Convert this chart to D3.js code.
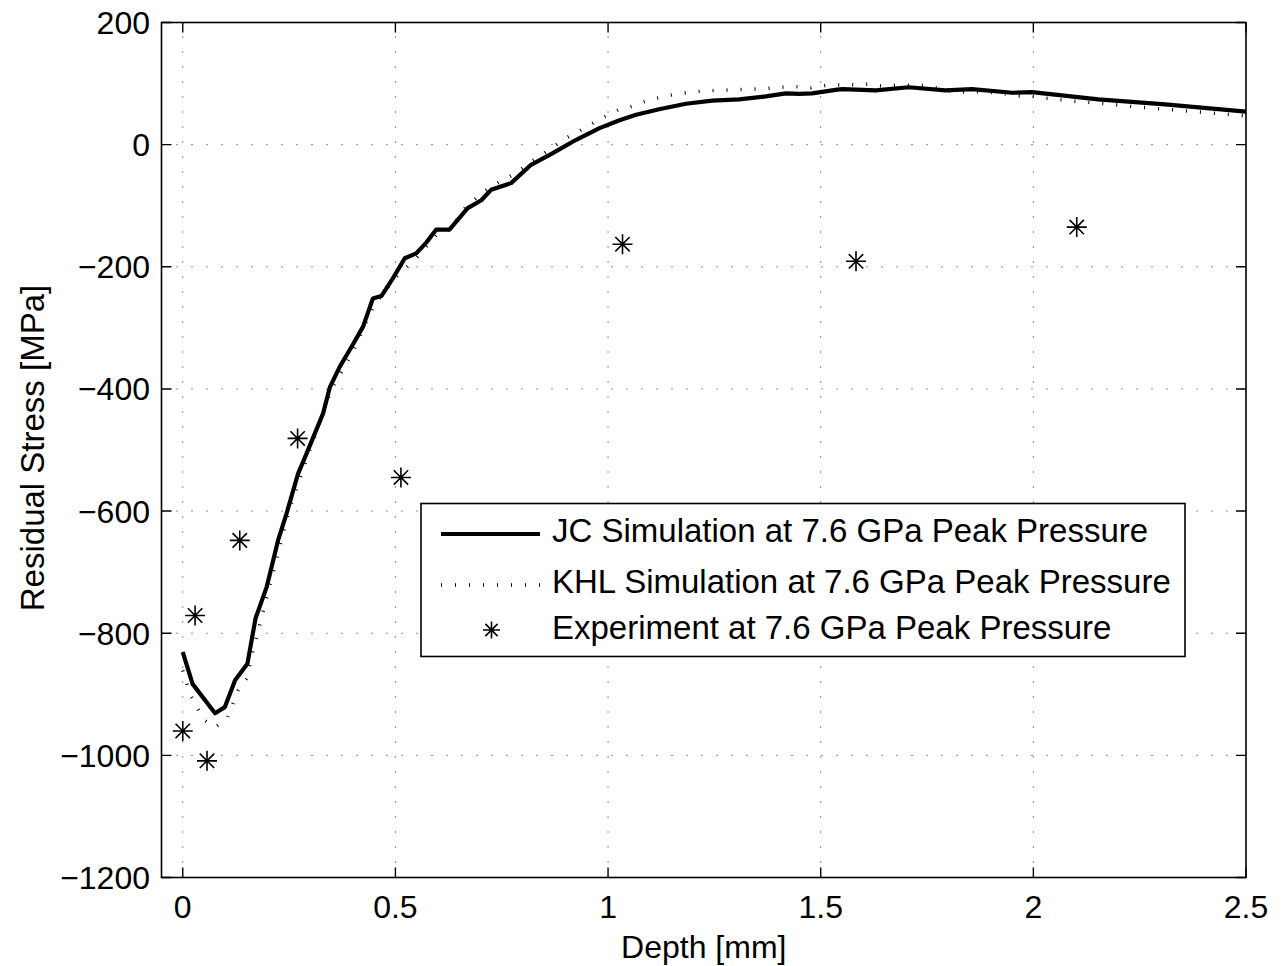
<!DOCTYPE html>
<html>
<head>
<meta charset="utf-8">
<script src="https://cdn.jsdelivr.net/npm/d3@7"></script>
<style>
  html, body { margin: 0; padding: 0; background: #fff; }
  svg { display: block; }
  text { font-family: "Liberation Sans", Arial, Helvetica, sans-serif; fill: #000; }
</style>
</head>
<body>
<svg id="chart" width="1283" height="966"></svg>
<script>
// ---- data ----
const xTicks = [0, 0.5, 1, 1.5, 2, 2.5];
const yTicks = [200, 0, -200, -400, -600, -800, -1000, -1200];
const yTickLabels = ["200", "0", "\u2212200", "\u2212400", "\u2212600", "\u2212800", "\u22121000", "\u22121200"];
const xTickLabels = ["0", "0.5", "1", "1.5", "2", "2.5"];

const jcDepth = [0, 0.023, 0.076, 0.099, 0.123, 0.152, 0.171, 0.197, 0.224, 0.244, 0.271, 0.291, 0.33, 0.346, 0.369, 0.397, 0.424, 0.447, 0.467, 0.494, 0.522, 0.549, 0.573, 0.596, 0.627, 0.67, 0.702, 0.725, 0.772, 0.819, 0.87, 0.925, 0.98, 1.027, 1.066, 1.12, 1.183, 1.245, 1.308, 1.371, 1.418, 1.449, 1.48, 1.539, 1.551, 1.629, 1.707, 1.793, 1.856, 1.95, 1.997, 2.153, 2.31, 2.5];
const jcStress = [-831, -883, -931, -921, -877, -850, -776, -725, -648, -604, -539, -506, -440, -397, -364, -331, -298, -252, -248, -219, -186, -178, -160, -139, -139, -104, -91, -74, -63, -33, -14, 8, 27, 40, 49, 58, 67, 72, 74, 79, 84, 83, 84, 90, 91, 89, 94, 89, 91, 85, 86, 74, 66, 54];

const khlDepth = [0, 0.017, 0.048, 0.076, 0.104, 0.13, 0.151, 0.165, 0.2, 0.25, 0.3, 0.35, 0.4, 0.45, 0.5, 0.55, 0.6, 0.63, 0.666, 0.696, 0.723, 0.754, 0.785, 0.813, 0.843, 0.872, 0.899, 0.929, 0.961, 0.993, 1.024, 1.058, 1.092, 1.126, 1.161, 1.195, 1.23, 1.265, 1.3, 1.336, 1.371, 1.406, 1.441, 1.477, 1.512, 1.547, 1.581, 1.616, 1.651, 1.684, 1.719, 1.754, 1.789, 1.823, 1.856, 1.891, 1.926, 1.96, 1.997, 2.03, 2.099, 2.169, 2.239, 2.31, 2.38, 2.45, 2.5];
const khlStress = [-861, -899, -941, -954, -940, -894, -874, -829, -735, -598, -498, -400, -340, -262, -218, -185, -145, -138, -102, -84, -69, -58, -46, -31, -17, -3, 10, 21, 34, 46, 57, 63, 72, 78, 83, 86, 88, 89, 90, 91, 92, 94, 95, 93, 97, 98, 98, 99, 95, 98, 97, 97, 89, 86, 87, 86, 84, 80, 79, 76, 71, 67, 62, 58, 54, 50, 47];

const expDepth = [0, 0.029, 0.057, 0.134, 0.27, 0.513, 1.034, 1.583, 2.102];
const expStress = [-960, -771, -1009, -648, -481, -545, -163, -191, -135];

const seriesNames = ["JC Simulation at 7.6 GPa Peak Pressure", "KHL Simulation at 7.6 GPa Peak Pressure", "Experiment at 7.6 GPa Peak Pressure"];
const xLabel = "Depth [mm]";
const yLabel = "Residual Stress [MPa]";

// ---- layout ----
const L = 161.5, R = 1246, T = 22.5, B = 877.5;
const FS = 32;
const svg = d3.select("#chart");
const x = d3.scaleLinear().domain([-0.05, 2.5]).range([L, R]);
const y = d3.scaleLinear().domain([-1200, 200]).range([B, T]);

// grid
const grid = svg.append("g").attr("stroke", "#222").attr("stroke-width", 1).attr("stroke-dasharray", "1,14");
grid.selectAll(".vg").data(xTicks.filter(d => d < 2.5)).join("line")
  .attr("x1", d => x(d)).attr("x2", d => x(d)).attr("y1", B).attr("y2", T);
grid.selectAll(".hg").data(yTicks.filter(d => d > -1200 && d < 200)).join("line")
  .attr("y1", d => y(d)).attr("y2", d => y(d)).attr("x1", L).attr("x2", R);

// series
const jcData = jcDepth.map((d, i) => [d, jcStress[i]]);
const khlData = khlDepth.map((d, i) => [d, khlStress[i]]);
const line = d3.line().x(d => x(d[0])).y(d => y(d[1]));

svg.append("path").datum(khlData).attr("d", line)
  .attr("fill", "none").attr("stroke", "#000").attr("stroke-width", 3.5)
  .attr("stroke-dasharray", "1,13");
svg.append("path").datum(jcData).attr("d", line)
  .attr("fill", "none").attr("stroke", "#000").attr("stroke-width", 4.2)
  .attr("stroke-linejoin", "round");

function asterisk(g, cx, cy, r) {
  const d = r * 0.72;
  const p = `M${cx - r},${cy}H${cx + r}M${cx},${cy - r}V${cy + r}` +
    `M${cx - d},${cy - d}L${cx + d},${cy + d}M${cx - d},${cy + d}L${cx + d},${cy - d}`;
  g.append("path").attr("d", p).attr("stroke", "#000").attr("stroke-width", 1.6).attr("fill", "none");
}
const expG = svg.append("g");
expDepth.forEach((d, i) => asterisk(expG, x(d), y(expStress[i]), 10));

// axes box
const ax = svg.append("g");
ax.append("rect").attr("x", L).attr("y", T).attr("width", R - L).attr("height", B - T)
  .attr("fill", "none").attr("stroke", "#000").attr("stroke-width", 1.6);

const tk = 10;
ax.selectAll(".xt").data(xTicks).join("path")
  .attr("d", d => `M${x(d)},${B}V${B - tk}M${x(d)},${T}V${T + tk}`)
  .attr("stroke", "#000").attr("stroke-width", 1.4);
ax.selectAll(".yt").data(yTicks).join("path")
  .attr("d", d => `M${L},${y(d)}H${L + tk}M${R},${y(d)}H${R - tk}`)
  .attr("stroke", "#000").attr("stroke-width", 1.4);

ax.selectAll(".xl").data(xTicks).join("text")
  .attr("x", d => x(d)).attr("y", 918).attr("text-anchor", "middle")
  .attr("font-size", FS).text((d, i) => xTickLabels[i]);
ax.selectAll(".yl").data(yTicks).join("text")
  .attr("x", 150).attr("y", d => y(d) + 11.5).attr("text-anchor", "end")
  .attr("font-size", FS).text((d, i) => yTickLabels[i]);

svg.append("text").attr("x", (L + R) / 2).attr("y", 958).attr("text-anchor", "middle")
  .attr("font-size", FS).text(xLabel);
svg.append("text").attr("transform", `translate(44,448) rotate(-90)`)
  .attr("text-anchor", "middle").attr("font-size", 33).text(yLabel);

// legend
const lg = svg.append("g");
lg.append("rect").attr("x", 421).attr("y", 503.5).attr("width", 764).attr("height", 153)
  .attr("fill", "#fff").attr("stroke", "#000").attr("stroke-width", 1.6);
const rows = [534, 585, 630];
const baselines = [541.7, 592.7, 639];
lg.append("line").attr("x1", 441).attr("x2", 540).attr("y1", rows[0]).attr("y2", rows[0])
  .attr("stroke", "#000").attr("stroke-width", 4.2);
lg.append("line").attr("x1", 441).attr("x2", 540).attr("y1", rows[1]).attr("y2", rows[1])
  .attr("stroke", "#000").attr("stroke-width", 3.5).attr("stroke-dasharray", "1,13");
asterisk(lg, 491.5, rows[2], 8.5);
seriesNames.forEach((s, i) => {
  lg.append("text").attr("x", 552).attr("y", baselines[i]).attr("font-size", 33).text(s);
});
</script>
</body>
</html>
